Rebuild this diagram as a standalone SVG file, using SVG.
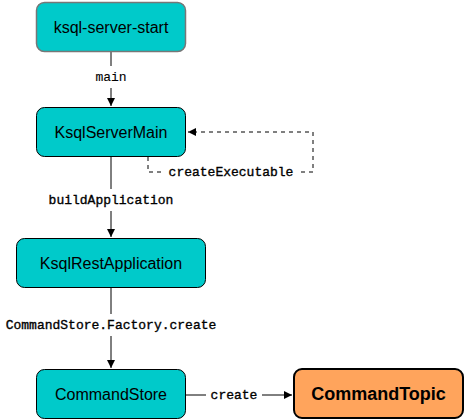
<svg xmlns="http://www.w3.org/2000/svg" width="465" height="420" viewBox="0 0 465 420">
<defs>
<marker id="arr" viewBox="0 0 10 10" refX="10" refY="5" markerWidth="8" markerHeight="8" markerUnits="userSpaceOnUse" orient="auto">
<path d="M0,0 L10,5 L0,10 Z" fill="#000"/>
</marker>
<style>
.n{fill:#00CACA;stroke:#000;stroke-width:1}
.t{font-family:"Liberation Sans",Arial,sans-serif;font-size:16px;fill:#000;text-anchor:middle}
.e{fill:none;stroke:#000;stroke-width:1}
.l{font-family:"Liberation Mono","Courier New",monospace;font-size:13px;fill:#000;text-anchor:middle;stroke:#000;stroke-width:0.35}
.lb{fill:#fff}
</style>
</defs>
<rect width="465" height="420" fill="#fff"/>
<g id="edges">
<path class="e" d="M111,52 V106" marker-end="url(#arr)"/>
<rect class="lb" x="94" y="66" width="34" height="22"/>
<text class="l" x="111" y="81" style="stroke-width:0.1">main</text>
<path class="e" d="M111,157 V237" marker-end="url(#arr)"/>
<rect class="lb" x="46" y="189" width="130" height="22"/>
<text class="l" x="111" y="204">buildApplication</text>
<path class="e" d="M111,288 V368" marker-end="url(#arr)"/>
<rect class="lb" x="4" y="314" width="214" height="22"/>
<text class="l" x="111" y="329">CommandStore.Factory.create</text>
<path class="e" d="M148,157 V172 H313 V132 H188" stroke-dasharray="4 4" marker-end="url(#arr)"/>
<rect class="lb" x="164" y="164" width="134" height="15"/>
<text class="l" x="231" y="176">createExecutable</text>
<path class="e" d="M186,395 H292" marker-end="url(#arr)"/>
<rect class="lb" x="206" y="387" width="56" height="15"/>
<text class="l" x="234" y="399">create</text>
</g>
<g id="ksql-server-start">
<rect class="n" x="36.5" y="2.5" width="149" height="49" rx="8" style="stroke:#777;stroke-width:1.5"/>
<text class="t" x="111" y="33">ksql-server-start</text>
</g>
<g id="KsqlServerMain">
<rect class="n" x="36.5" y="107.5" width="149" height="49" rx="8"/>
<text class="t" x="111" y="138">KsqlServerMain</text>
</g>
<g id="KsqlRestApplication">
<rect class="n" x="16.5" y="238.5" width="189" height="49" rx="8"/>
<text class="t" x="111" y="269">KsqlRestApplication</text>
</g>
<g id="CommandStore">
<rect class="n" x="36.5" y="369.5" width="149" height="49" rx="8"/>
<text class="t" x="111" y="400">CommandStore</text>
</g>
<g id="CommandTopic">
<rect x="294" y="369" width="169" height="49" rx="8" fill="#FFA45C" stroke="#000" stroke-width="2"/>
<text class="t" x="378.5" y="400" font-weight="bold" style="font-size:18px">CommandTopic</text>
</g>
</svg>
